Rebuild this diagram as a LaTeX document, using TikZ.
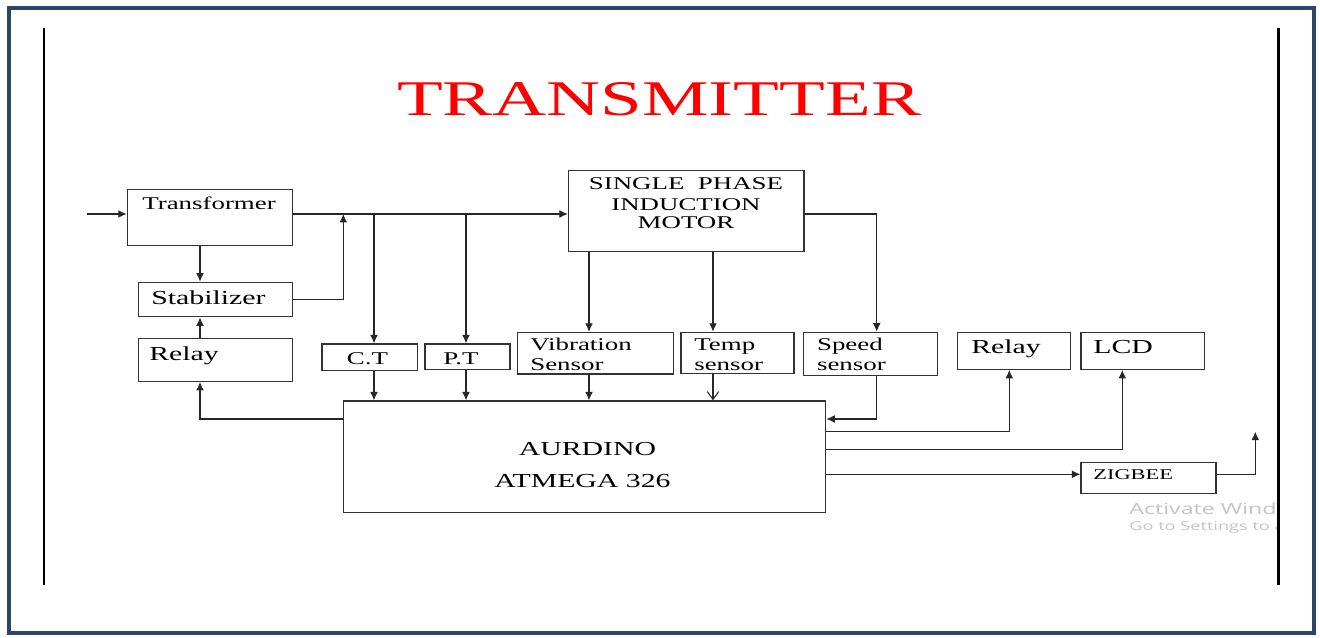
\documentclass[tikz,border=0pt]{standalone}
\usepackage{fontspec}
\setmainfont{Liberation Serif}[FakeStretch=1.5]
\newfontfamily\wmfont{Open Sans}[FakeStretch=1.5]
\usetikzlibrary{arrows.meta, positioning, calc}
\definecolor{framenavy}{HTML}{2B4668}
\definecolor{titlered}{HTML}{FF0000}
\definecolor{wmgray}{HTML}{C4C4C4}

\begin{document}
\begin{tikzpicture}[x=0.02cm, y=-0.02cm,
  blk/.style={draw=black!80, line width=0.7pt, inner sep=0pt},
  txt/.style={inner sep=0pt, font=\fontsize{10.2pt}{12pt}\selectfont},
  txtb/.style={inner sep=0pt, font=\fontsize{11.3pt}{13pt}\selectfont},
  wire/.style={draw=black!85, line width=0.6pt},
  arr/.style={wire, -{Latex[length=4.8pt, width=4.4pt]}},
  arro/.style={wire, -{Straight Barb[length=4.5pt, width=6.5pt]}}]

  \fill[white] (0,0) rectangle (1320,637);
  \useasboundingbox (0,0) rectangle (1320,637);
  \draw[framenavy, line width=2.3pt] (9,8) rectangle (1314,633);

  % title
  \node[text=titlered, inner sep=0pt, anchor=base, font=\fontsize{28.4pt}{30pt}\selectfont] (title) at (659,115) {TRANSMITTER};

  % blocks
  \node[blk, minimum width=3.30cm, minimum height=1.12cm] (tr) at (209.8,217.3) {};
  \node[blk, minimum width=3.08cm, minimum height=0.69cm] (stab) at (215.3,299.5) {};
  \node[blk, minimum width=3.08cm, minimum height=0.86cm] (rlyL) at (215.3,359.8) {};
  \node[blk, minimum width=1.91cm, minimum height=0.53cm] (ct) at (369.7,357.2) {};
  \node[blk, minimum width=1.70cm, minimum height=0.51cm] (pt) at (467.5,356.7) {};
  \node[blk, minimum width=3.12cm, minimum height=0.83cm] (vib) at (595.3,353.2) {};
  \node[blk, minimum width=2.26cm, minimum height=0.82cm] (tmp) at (737.5,352.8) {};
  \node[blk, minimum width=2.68cm, minimum height=0.87cm] (spd) at (870.3,354) {};
  \node[blk, minimum width=2.27cm, minimum height=0.74cm] (rlyR) at (1014,350.8) {};
  \node[blk, minimum width=2.47cm, minimum height=0.74cm] (lcd) at (1142.7,350.8) {};
  \node[blk, minimum width=4.71cm, minimum height=1.61cm] (mot) at (686.2,210.9) {};
  \node[blk, minimum width=9.65cm, minimum height=2.23cm] (ard) at (584.5,456.7) {};
  \node[blk, minimum width=2.70cm, minimum height=0.62cm] (zig) at (1148.5,477.8) {};

  % block texts
  \node[txt, anchor=base west] (tr-t) at (142,209) {Transformer};
  \node[txtb, anchor=base west] (stab-t) at (151,304) {Stabilizer};
  \node[txtb, anchor=base west] (rlyL-t) at (149,360) {Relay};
  \node[txt, anchor=base] (ct-t) at (367.5,364.3) {C.T};
  \node[txt, anchor=base] (pt-t) at (461,364) {P.T};
  \node[txt, anchor=base west] (vib-t1) at (530,350.7) {Vibration};
  \node[txt, anchor=base west] (vib-t2) at (530,370.7) {Sensor};
  \node[txt, anchor=base west] (tmp-t1) at (694,350.7) {Temp};
  \node[txt, anchor=base west] (tmp-t2) at (694,370.7) {sensor};
  \node[txt, anchor=base west] (spd-t1) at (816.7,350.7) {Speed};
  \node[txt, anchor=base west] (spd-t2) at (816.7,370.7) {sensor};
  \node[txtb, anchor=base west] (rlyR-t) at (971,353.3) {Relay};
  \node[txtb, anchor=base west] (lcd-t) at (1093,353.3) {LCD};
  \node[txt, anchor=base] (mot-t1) at (686,189.3) {SINGLE~~PHASE};
  \node[txt, anchor=base] (mot-t2) at (686,210) {INDUCTION};
  \node[txt, anchor=base] (mot-t3) at (686,228.3) {MOTOR};
  \node[txtb, anchor=base] (ard-t1) at (587.5,455) {AURDINO};
  \node[txtb, anchor=base] (ard-t2) at (582.5,487.3) {ATMEGA 326};
  \node[inner sep=0pt, anchor=base west, font=\fontsize{8.5pt}{10pt}\selectfont] (zig-t) at (1093,479.3) {ZIGBEE};

  % helper points
  \coordinate (in) at (87,214);
  \coordinate (j1) at (343.3,214);
  \coordinate (xa) at (200,0);
  \coordinate (ya) at (0,419);
  \coordinate (bct) at (374,214);
  \coordinate (bpt) at (466,214);
  \coordinate (bvb) at (589,0);
  \coordinate (btp) at (713,0);
  \coordinate (bsp) at (876.7,214);
  \coordinate (yr) at (1009.3,431.7);
  \coordinate (yl) at (1122.3,449.5);
  \coordinate (yz) at (0,474.3);
  \coordinate (out) at (1255.3,431.7);

  % connections
  \draw[arr] (in) -- (in -| tr.west);
  \draw[arr] (tr.east |- in) -- (mot.west |- in);
  \draw[arr] (stab.east) -- (stab.east -| j1) -- (j1);
  \draw[arr] (tr.south -| xa) -- (stab.north -| xa);
  \draw[arr] (rlyL.north -| xa) -- (stab.south -| xa);
  \draw[arr] (ard.west |- ya) -| (rlyL.south -| xa);
  \draw[arr] (bct) -- (bct |- ct.north);
  \draw[arr] (bpt) -- (bpt |- pt.north);
  \draw[arr] (bct |- ct.south) -- (bct |- ard.north);
  \draw[arr] (bpt |- pt.south) -- (bpt |- ard.north);
  \draw[arr] (mot.south -| bvb) -- (vib.north -| bvb);
  \draw[arr] (mot.south -| btp) -- (tmp.north -| btp);
  \draw[arr] (mot.east |- bsp) -- (bsp) -- (bsp |- spd.north);
  \draw[arr] (vib.south -| bvb) -- (ard.north -| bvb);
  \draw[arro] (tmp.south -| btp) -- (ard.north -| btp);
  \draw[arr] (bsp |- spd.south) |- (ard.east |- ya);
  \draw[arr] (ard.east |- yr) -| (yr |- rlyR.south);
  \draw[arr] (ard.east |- yl) -| (yl |- lcd.south);
  \draw[arr] (ard.east |- yz) -- (zig.west |- yz);
  \draw[arr] (zig.east |- yz) -| (out);

  % watermark
  \begin{scope}
    \clip (1100,495) rectangle (1277,540);
    \node[text=wmgray, inner sep=0pt, anchor=base west, font=\wmfont\fontsize{8.8pt}{10pt}\selectfont] (wm1) at (1129,514) {Activate Wind};
    \node[text=wmgray, inner sep=0pt, anchor=base west, font=\wmfont\fontsize{6.9pt}{8pt}\selectfont] (wm2) at (1129,530.7) {Go to Settings to a};
  \end{scope}

  % page edges
  \draw[line width=1.4pt] (43.8,28) -- (43.8,585);
  \draw[line width=1.6pt] (1278.8,28) -- (1278.8,585);
\end{tikzpicture}
\end{document}
